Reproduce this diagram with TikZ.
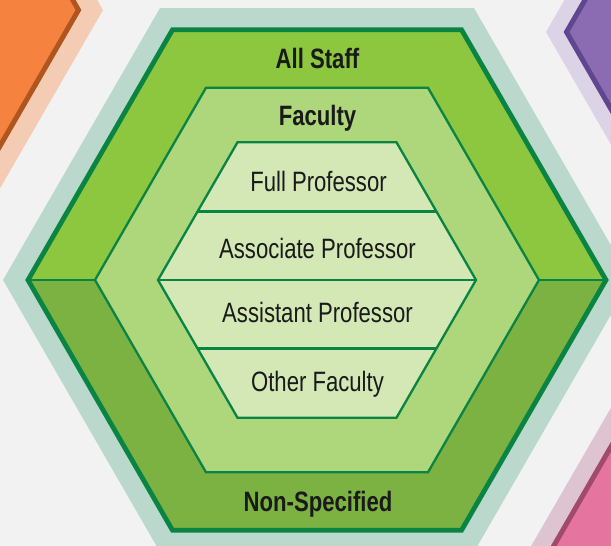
\documentclass[tikz,border=0pt]{standalone}
\usepackage{fontspec}
\setmainfont{Liberation Sans}
\usetikzlibrary{calc}
\definecolor{bg}{HTML}{F2F2F2}
\definecolor{ghalo}{HTML}{BAD8CC}
\definecolor{gdark}{HTML}{0A8443}
\definecolor{gstaff}{HTML}{8DC63F}
\definecolor{gnon}{HTML}{7CB242}
\definecolor{gfac}{HTML}{AED67B}
\definecolor{ginner}{HTML}{D3E8B5}
\definecolor{ofill}{HTML}{F5823E}
\definecolor{oedge}{HTML}{B1551E}
\definecolor{ohalo}{HTML}{F4CCB3}
\definecolor{pfill}{HTML}{8B6CB2}
\definecolor{pedge}{HTML}{5E4691}
\definecolor{phalo}{HTML}{DCD3E6}
\definecolor{kfill}{HTML}{E5749F}
\definecolor{kedge}{HTML}{A14A6B}
\definecolor{khalo}{HTML}{DEC4D0}
\definecolor{txt}{HTML}{1A1A1A}
\newcommand{\hexa}[3]{({#1+#3},{#2}) -- ({#1+0.5*#3},{#2-0.8660254*#3}) -- ({#1-0.5*#3},{#2-0.8660254*#3}) -- ({#1-#3},{#2}) -- ({#1-0.5*#3},{#2+0.8660254*#3}) -- ({#1+0.5*#3},{#2+0.8660254*#3}) -- cycle}
\newcommand{\cond}[1]{\scalebox{0.79}[1]{#1}}
\tikzset{
  lbl/.style={anchor=base, inner sep=0pt, text=txt, font=\fontsize{28}{32}\selectfont},
  blbl/.style={lbl, font=\fontsize{28}{32}\selectfont\bfseries},
  thinline/.style={draw=gdark, line width=2.3pt},
  sideedge/.style={line width=5pt}
}
\begin{document}
\begin{tikzpicture}[x=1pt,y=-1pt]
\useasboundingbox (0,0) rectangle (611,546);
\fill[bg] (0,0) rectangle (611,546);
\clip (0,0) rectangle (611,546);
% side hexagons
\fill[ohalo] \hexa{-209}{10}{312};
\filldraw[fill=ofill, draw=oedge, sideedge] \hexa{-209}{10}{287.5};
\fill[phalo] \hexa{854}{32}{308};
\filldraw[fill=pfill, draw=pedge, sideedge] \hexa{854}{32}{287.5};
\fill[khalo] \hexa{840}{548}{310};
\filldraw[fill=kfill, draw=kedge, sideedge] \hexa{840}{548}{287.5};
% central hexagon
\fill[ghalo] \hexa{317}{280}{314};
\fill[gnon] \hexa{317}{280}{289};
\coordinate (oL) at (28,280);
\coordinate (oR) at (606,280);
\coordinate (mL) at (95,280);
\coordinate (mR) at (539,280);
\fill[gstaff] (oL) -- (172.5,29.7) -- (461.5,29.7) -- (oR) -- cycle;
\draw[gdark, line width=4.8pt] \hexa{317}{280}{289};
\draw[thinline] (oL) -- (mL);
\draw[thinline] (oR) -- (mR);
\filldraw[fill=gfac, thinline] \hexa{317}{280}{222};
\filldraw[fill=ginner, thinline] \hexa{317}{280}{159};
\coordinate (d1L) at (197.5,211.5);
\coordinate (d1R) at (436.5,211.5);
\coordinate (d2L) at (158,280);
\coordinate (d2R) at (476,280);
\coordinate (d3L) at (197.5,348.5);
\coordinate (d3R) at (436.5,348.5);
\draw[thinline] (d1L) -- (d1R);
\draw[thinline] (d2L) -- (d2R);
\draw[thinline] (d3L) -- (d3R);
% labels
\node[blbl] (allstaff) at (317.5,68.3) {\cond{All Staff}};
\node[blbl] (faculty) at (317.5,125) {\cond{Faculty}};
\node[lbl] (full) at (318.5,191.7) {\cond{Full Professor}};
\node[lbl] (assoc) at (317.5,258) {\cond{Associate Professor}};
\node[lbl] (assist) at (317.5,322.7) {\cond{Assistant Professor}};
\node[lbl] (other) at (317.5,391.7) {\cond{Other Faculty}};
\node[blbl] (nonspec) at (318,511.7) {\cond{Non-Specified}};
\end{tikzpicture}
\end{document}
